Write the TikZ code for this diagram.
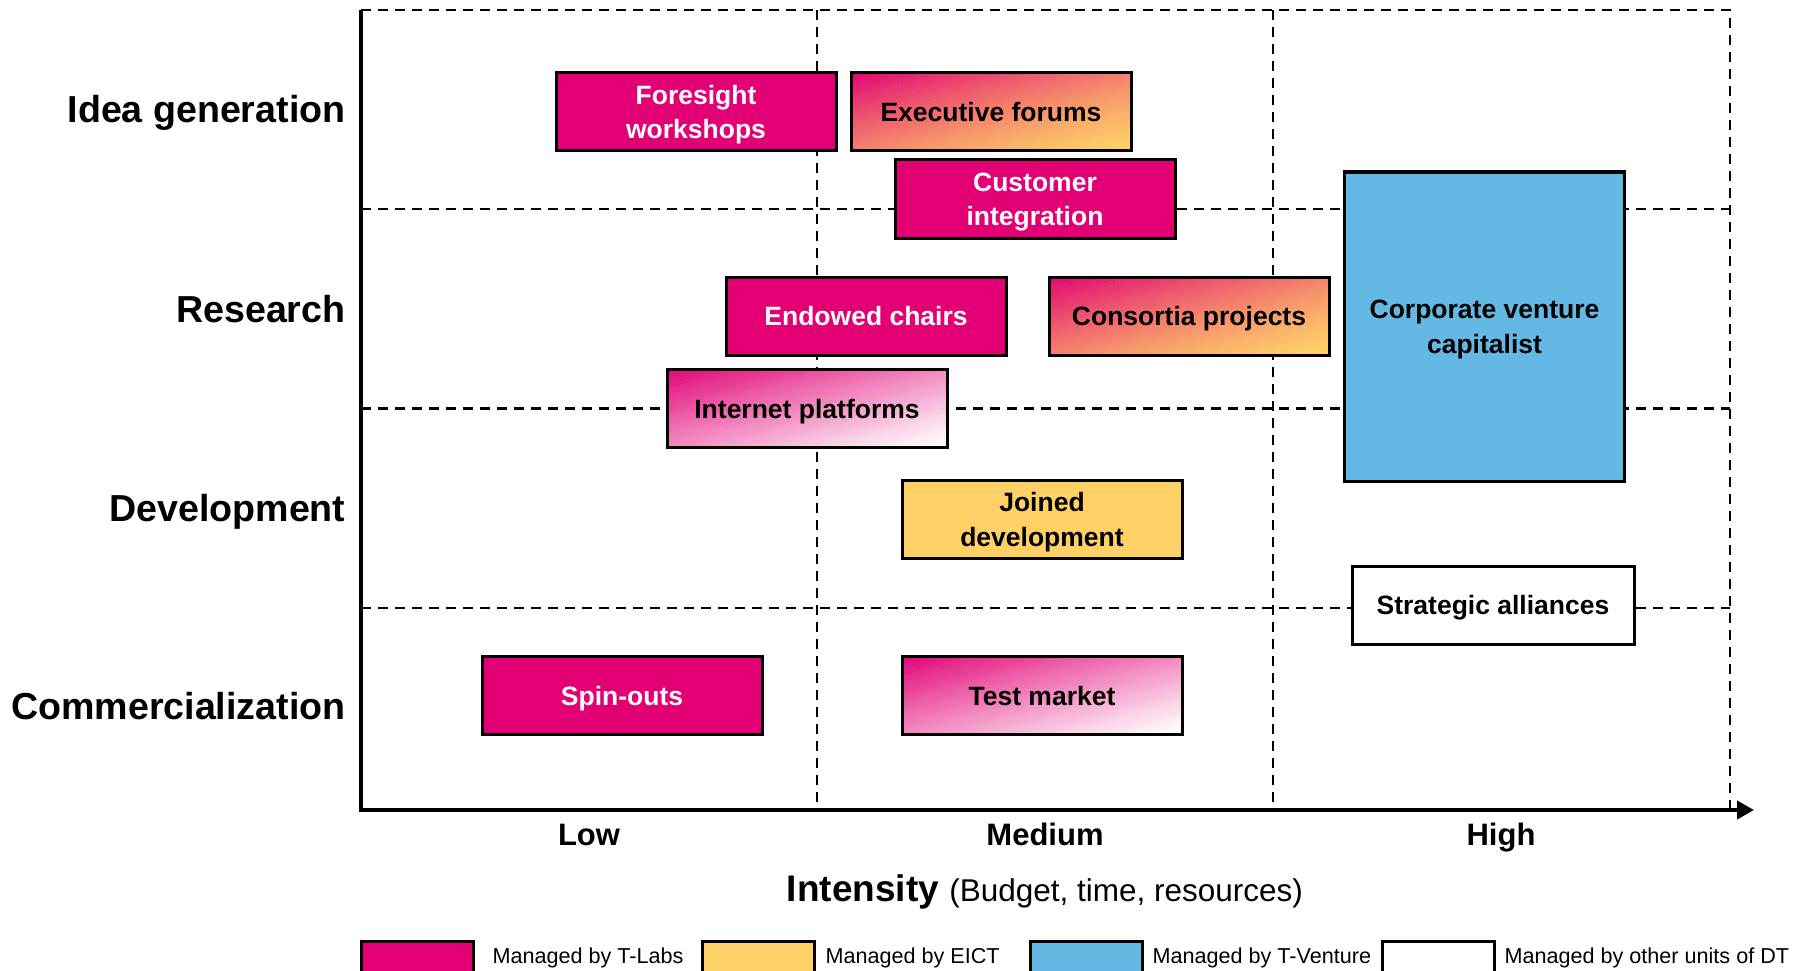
\documentclass[tikz,border=0pt]{standalone}
\usepackage{fontspec}
\setmainfont{Liberation Sans}
\usetikzlibrary{arrows.meta,calc}
\definecolor{tmagenta}{RGB}{226,0,116}
\definecolor{eictyellow}{RGB}{254,208,102}
\definecolor{tventure}{RGB}{99,185,228}
% diagonal blend from the top left corner (#1) to the bottom right corner (#2), #3 bends the blend
\newcommand{\diagshade}[3]{%
	\foreach \k in {0,...,49}{%
		\pgfmathtruncatemacro{\pct}{99*(1-(\k+0.5)/50)^#3}%
		\pgfmathsetmacro{\ca}{11.2*\k}%
		\pgfmathsetmacro{\cb}{\ca+12.4}%
		\fill[#1!\pct!#2]
			($(path picture bounding box.north west)+(\ca+36,-10)$) --
			($(path picture bounding box.north west)+(\cb+36,-10)$) --
			($(path picture bounding box.north west)+(\cb-316,88)$) --
			($(path picture bounding box.north west)+(\ca-316,88)$) -- cycle;
	}}
\begin{document}
\begin{tikzpicture}
	[x=1pt, y=-1pt,
	 grid/.style={line width=2.5pt, dash pattern=on 10pt off 7pt},
	 axis/.style={line width=4.5pt},
	 box/.style={draw, line width=3pt, minimum width=280pt, minimum height=78pt, align=center, inner sep=0pt, text depth=0pt, font=\fontsize{26.5}{34.5}\selectfont\bfseries},
	 labs/.style={box, fill=tmagenta, text=white},
	 eict/.style={box, fill=eictyellow},
	 mixed/.style={box, path picture={\diagshade{tmagenta}{eictyellow}{1.35}}},
	 fading/.style={box, path picture={\diagshade{tmagenta}{white}{1.1}}},
	 phase/.style={anchor=base east, font=\fontsize{37.6}{40}\selectfont\bfseries},
	 level/.style={anchor=base, font=\fontsize{31}{34}\selectfont\bfseries},
	 legbox/.style={draw, line width=3pt, minimum width=112pt, minimum height=40pt, inner sep=0pt},
	 legtext/.style={anchor=west, font=\fontsize{21.6}{24}\selectfont}]
	\useasboundingbox (0,0) rectangle (1794,971);
	% grid
	\draw[grid] (361,10) -- (1730,10) -- (1730,810);
	\draw[grid] (817,10) -- (817,810);
	\draw[grid] (1273,10) -- (1273,810);
	\draw[grid] (361,209) -- (1730,209);
	\draw[grid] (361,408.5) -- (1730,408.5);
	\draw[grid] (361,608) -- (1730,608);
	% axes
	\coordinate (ytop) at (361,10);
	\coordinate (O) at (361,810);
	\coordinate (xend) at (1754,810);
	\draw[axis, -{Triangle[length=17pt, width=18pt]}] (ytop) -- (O) -- (xend);
	% phases
	\node[phase] (idea) at (349,123) {Idea generation};
	\node[phase] (research) at (349,322) {Research};
	\node[phase] (devel) at (349,521) {Development};
	\node[phase] (comm) at (349,719) {Commercialization};
	% intensity
	\node[level] (low) at (589,845) {Low};
	\node[level] (medium) at (1045,845) {Medium};
	\node[level] (high) at (1501,845) {High};
	\node[anchor=base] (intensity) at (1045,901) {\fontsize{37}{40}\selectfont\bfseries Intensity \fontsize{31.5}{34}\selectfont\mdseries (Budget, time, resources)};
	% instruments
	\node[labs] (foresight) at (696,112) {Foresight\\workshops};
	\node[mixed] (exec) at (991,112) {Executive forums};
	\node[labs] (customer) at (1035,199) {Customer\\integration};
	\node[labs] (chairs) at (866,316) {Endowed chairs};
	\node[mixed] (consortia) at (1189,316) {Consortia projects};
	\node[fading] (internet) at (807,408.5) {Internet platforms};
	\node[eict] (joined) at (1042,519.5) {Joined\\development};
	\node[labs] (spinouts) at (622,695.5) {Spin-outs};
	\node[fading] (testmarket) at (1042,695.5) {Test market};
	\node[box, fill=tventure, minimum height=309pt] (cvc) at (1484.5,326.5) {Corporate venture\\capitalist};
	\node[box, fill=white, minimum width=282pt] (alliances) at (1493,605) {Strategic alliances};
	% legend
	\node[legbox, fill=tmagenta] (legLabs) at (417,961) {};
	\node[legtext] (txtLabs) at (489,958) {Managed by T-Labs};
	\node[legbox, fill=eictyellow] (legEict) at (758.5,961) {};
	\node[legtext] (txtEict) at (822,958) {Managed by EICT};
	\node[legbox, fill=tventure] (legVenture) at (1086,961) {};
	\node[legtext] (txtVenture) at (1149,958) {Managed by T-Venture};
	\node[legbox, fill=white] (legOther) at (1438,961) {};
	\node[legtext] (txtOther) at (1501,958) {Managed by other units of DT};
\end{tikzpicture}
\end{document}
